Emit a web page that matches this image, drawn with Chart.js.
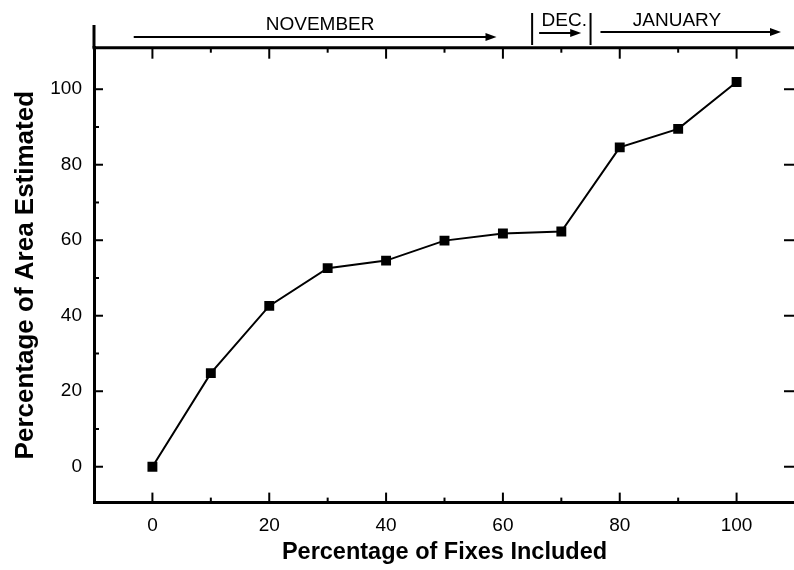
<!DOCTYPE html>
<html>
<head>
<meta charset="utf-8">
<script src="https://cdn.jsdelivr.net/npm/chart.js@4"></script>
<style>
html,body{margin:0;padding:0;background:#fff;overflow:hidden;width:794px;height:570px;}
canvas{display:block;}
</style>
</head>
<body>
<canvas id="c" width="802" height="570" style="width:802px;height:570px"></canvas>
<script>
// ---- data ----
const fixesIncluded = [0, 10, 20, 30, 40, 50, 60, 70, 80, 90, 100];
const areaEstimated = [0, 24.8, 42.6, 52.6, 54.6, 59.9, 61.8, 62.3, 84.6, 89.5, 101.9];
const xMajorTicks = [0, 20, 40, 60, 80, 100];
const xMinorTicks = [10, 30, 50, 70, 90];
const yMajorTicks = [0, 20, 40, 60, 80, 100];
const yMinorTicks = [10, 30, 50, 70, 90];
const monthLabels = ['NOVEMBER', 'DEC.', 'JANUARY'];
const monthLabelCenter = [28.7, 70.5, 89.8];
const monthArrowFrom = [-3.2, 66.2, 76.7];
const monthArrowTo = [58.9, 73.4, 107.6];
const monthSeparators = [65, 75];

const SANS = "'Liberation Sans',Arial,sans-serif";

const framePlugin = {
  id: 'frame',
  afterDraw(chart) {
    const {ctx, chartArea: {left, right, top, bottom}, scales: {x, y}} = chart;
    const line = (x1, y1, x2, y2) => { ctx.beginPath(); ctx.moveTo(x1, y1); ctx.lineTo(x2, y2); ctx.stroke(); };
    ctx.save();
    ctx.strokeStyle = '#000';
    ctx.fillStyle = '#000';
    ctx.lineCap = 'butt';
    // top axis and left axis extension
    ctx.lineWidth = 3;
    line(left - 1.5, top, right, top);
    line(left, top, left, 25);
    // ticks
    ctx.lineWidth = 2;
    xMajorTicks.forEach(v => { const p = x.getPixelForValue(v); line(p, bottom, p, bottom - 10); line(p, top, p, top + 11); });
    xMinorTicks.forEach(v => { const p = x.getPixelForValue(v); line(p, bottom, p, bottom - 5); line(p, top, p, top + 5); });
    yMajorTicks.forEach(v => { const p = y.getPixelForValue(v); line(left, p, left + 9, p); line(right, p, right - 11, p); });
    yMinorTicks.forEach(v => { const p = y.getPixelForValue(v); line(left, p, left + 5, p); });
    // month annotations
    const textY = [25, 21, 21];
    const arrowY = [37, 33, 32];
    ctx.font = '19px ' + SANS;
    ctx.textAlign = 'center';
    ctx.textBaseline = 'middle';
    monthLabels.forEach((lab, i) => {
      ctx.fillText(lab, x.getPixelForValue(monthLabelCenter[i]), textY[i]);
      const a = x.getPixelForValue(monthArrowFrom[i]);
      const b = x.getPixelForValue(monthArrowTo[i]);
      const yy = arrowY[i];
      ctx.lineWidth = 2;
      line(a, yy, b - 8, yy);
      ctx.beginPath();
      ctx.moveTo(b, yy);
      ctx.lineTo(b - 11, yy - 4);
      ctx.lineTo(b - 11, yy + 4);
      ctx.closePath();
      ctx.fill();
    });
    ctx.lineWidth = 2;
    monthSeparators.forEach(v => { const p = x.getPixelForValue(v); line(p, 13, p, 45); });
    ctx.restore();
  }
};

new Chart(document.getElementById('c'), {
  type: 'line',
  data: {
    datasets: [{
      data: fixesIncluded.map((v, i) => ({x: v, y: areaEstimated[i]})),
      borderColor: '#000',
      backgroundColor: '#000',
      borderWidth: 2,
      pointStyle: 'rect',
      pointRadius: 7,
      pointBorderWidth: 0,
      pointBackgroundColor: '#000',
      tension: 0,
      fill: false
    }]
  },
  options: {
    responsive: false,
    animation: false,
    devicePixelRatio: 1,
    layout: {padding: {top: 47.7, right: 0, left: 0, bottom: 0}},
    plugins: {legend: {display: false}, tooltip: {enabled: false}},
    scales: {
      x: {
        type: 'linear',
        min: -10, max: 110,
        afterBuildTicks: s => { s.ticks = xMajorTicks.map(v => ({value: v})); },
        afterFit: s => { s.height = 67.4; },
        grid: {display: true, drawOnChartArea: false, drawTicks: false},
        border: {display: true, width: 3, color: '#000'},
        ticks: {autoSkip: false, maxRotation: 0, padding: 12, color: '#000', font: {family: SANS, size: 19}},
        title: {display: true, text: 'Percentage of Fixes Included', color: '#000',
                font: {family: SANS, size: 23.5, weight: 'bold', lineHeight: 1.2}, padding: {top: 0, bottom: 3}}
      },
      y: {
        type: 'linear',
        min: -9.5, max: 111,
        afterBuildTicks: s => { s.ticks = yMajorTicks.map(v => ({value: v})); },
        afterFit: s => { s.width = 94; },
        grid: {display: true, drawOnChartArea: false, drawTicks: false},
        border: {display: true, width: 3, color: '#000'},
        ticks: {autoSkip: false, padding: 12, color: '#000', font: {family: SANS, size: 19}},
        title: {display: true, text: 'Percentage of Area Estimated', color: '#000',
                font: {family: SANS, size: 26, weight: 'bold', lineHeight: 1.2}, padding: {top: 10, bottom: 0}}
      }
    }
  },
  plugins: [framePlugin]
});
</script>
</body>
</html>
